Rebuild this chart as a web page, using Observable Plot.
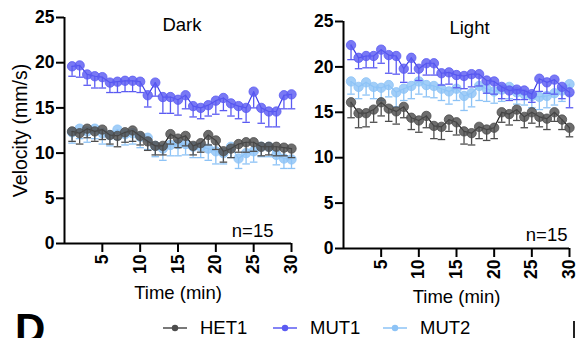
<!DOCTYPE html>
<html>
<head>
<meta charset="utf-8">
<script src="https://cdn.jsdelivr.net/npm/d3@7"></script>
<script src="https://cdn.jsdelivr.net/npm/@observablehq/plot@0.6"></script>
<style>
  html, body { margin: 0; padding: 0; background: #fff; }
  #wrap { position: relative; width: 576px; height: 338px; overflow: hidden; font-family: "Liberation Sans", Arial, sans-serif; color: #000; }
  #left { position: absolute; left: 0; top: 0; }
  #right { position: absolute; left: 300px; top: 0; }
  #legend { position: absolute; left: 163px; top: 319px; display: flex; font-size: 18.5px; line-height: 18px; }
  .item { display: flex; align-items: center; width: 110px; }
  .item svg { margin-right: 13px; }
  #letter { position: absolute; left: 15px; top: 308px; font-size: 42px; font-weight: bold; line-height: 1; }
  #edge { position: absolute; left: 573px; top: 321px; width: 2px; height: 20px; background: #222; }
</style>
</head>
<body>
<div id="wrap">
  <div id="left"></div>
  <div id="right"></div>
  <div id="legend"></div>
  <div id="letter">D</div>
  <div id="edge"></div>
</div>
<script>
// ---- data ----
const minutes = [1,2,3,4,5,6,7,8,9,10,11,12,13,14,15,16,17,18,19,20,21,22,23,24,25,26,27,28,29,30];
const groups = ["HET1", "MUT1", "MUT2"];
const groupColors = ["#4d4d4d", "#5b5bf2", "#8dc3f6"];
const lineColors = ["#1e1e1e", "#3c3ce6", "#8dc3f6"];
const xTicks = [5, 10, 15, 20, 25, 30];
const yTicks = [0, 5, 10, 15, 20, 25];

// Dark
const darkHET1 = [12.4,12.2,12.7,12.4,12.6,12.0,11.9,12.3,12.5,11.9,11.3,10.8,10.8,12.1,11.6,11.9,10.8,11.1,12.0,11.4,10.2,10.5,11.0,11.2,11.2,10.7,10.7,10.7,10.6,10.5];
const darkHET1Err = [1.1,1.2,1.0,1.1,1.1,1.0,1.2,1.1,1.2,1.0,1.0,1.0,1.0,1.1,1.0,1.1,1.0,1.0,1.1,1.0,1.2,1.0,0.9,1.1,1.0,1.0,0.9,1.0,0.9,1.0];
const darkMUT1 = [19.6,19.7,18.7,18.5,18.4,17.8,17.9,18.0,18.0,17.9,16.4,17.8,16.2,16.2,15.9,16.4,15.2,15.0,15.3,15.8,16.1,15.5,15.2,15.0,16.8,15.0,14.6,14.6,16.4,16.5];
const darkMUT1Err = [1.1,1.3,1.2,1.3,1.2,1.1,1.2,1.2,1.2,1.2,1.3,1.5,1.8,1.8,1.7,1.5,1.2,1.2,1.2,1.5,1.4,1.4,1.4,1.6,1.8,1.7,1.7,1.7,1.5,1.6];
const darkMUT2 = [12.3,12.7,12.4,12.7,12.2,12.0,12.6,12.1,12.2,11.8,11.7,10.8,10.5,10.9,11.0,11.0,10.7,10.7,10.5,10.2,10.0,10.7,9.4,10.0,10.2,10.7,10.7,9.8,9.4,9.3];
const darkMUT2Err = [1.2,1.1,1.2,1.1,1.2,1.2,1.1,1.2,1.2,1.2,1.3,1.2,1.3,1.2,1.3,1.2,1.2,1.2,1.3,1.4,1.2,1.2,1.1,1.2,1.2,1.1,1.1,1.1,1.1,1.0];

// Light
const lightHET1 = [16.1,14.9,14.9,15.3,16.1,15.4,15.1,15.6,14.4,14.1,14.6,13.5,13.4,14.2,13.9,12.9,12.7,13.4,13.1,13.3,15.0,14.8,15.3,14.5,15.0,14.5,14.3,15.0,14.2,13.3];
const lightHET1Err = [1.7,1.6,1.5,1.4,1.5,1.4,1.4,1.2,1.3,1.3,1.3,1.4,1.4,1.3,1.4,1.4,1.3,1.3,1.2,1.2,1.1,1.2,1.2,1.2,1.2,1.1,1.2,1.0,1.1,1.0];
const lightMUT1 = [22.4,21.0,21.2,21.2,21.9,21.3,21.2,19.8,21.0,19.8,20.4,20.4,19.3,19.4,19.1,19.0,19.2,19.2,18.5,18.4,17.8,17.4,17.5,17.4,17.0,18.7,18.3,18.6,17.8,17.2];
const lightMUT1Err = [1.6,1.2,1.3,1.3,1.5,2.0,2.0,1.5,1.7,1.3,1.3,1.3,1.3,1.3,1.4,1.4,1.4,1.3,1.4,1.4,1.3,1.1,1.1,1.0,0.9,1.4,1.2,1.6,1.3,1.7];
const lightMUT2 = [18.4,17.8,18.3,17.8,17.7,18.0,17.2,17.6,17.9,18.4,18.0,17.9,17.6,17.3,17.6,16.8,17.1,17.9,17.6,17.3,17.5,17.8,17.2,17.0,16.8,16.7,16.8,17.1,17.4,18.1];
const lightMUT2Err = [1.4,1.3,1.4,1.3,1.4,1.3,1.6,1.3,1.4,1.4,1.3,1.3,1.3,1.4,1.3,1.6,1.5,1.6,1.4,1.3,1.3,1.3,1.3,1.2,1.3,1.4,1.3,1.3,1.2,1.2];

function rows(series) {
  const out = [];
  [2, 1, 0].forEach(gi => {
    const [vals, errs] = series[gi];
    minutes.forEach((t, i) => out.push({t, v: vals[i], e: errs[i], g: groups[gi]}));
  });
  return out;
}

function panel(o) {
  const data = rows(o.series);
  const marks = [];
  for (const gi of [2, 1, 0]) {
    const sub = data.filter(d => d.g === groups[gi]);
    const c = groupColors[gi];
    marks.push(
      Plot.ruleX(sub, {x: "t", y1: d => d.v - d.e, y2: "v", stroke: c, strokeWidth: 1.3}),
      Plot.link(sub, {x1: d => d.t - 0.5, x2: d => d.t + 0.5, y1: d => d.v - d.e, y2: d => d.v - d.e, stroke: c, strokeWidth: 1.3}),
      Plot.line(sub, {x: "t", y: "v", stroke: lineColors[gi], strokeWidth: 1.2}),
      Plot.dot(sub, {x: "t", y: "v", r: 4.7, fill: c, fillOpacity: 0.82, stroke: c, strokeWidth: 0.8})
    );
  }
  return Plot.plot({
    width: o.width, height: 305,
    marginLeft: o.marginLeft, marginRight: o.marginRight, marginTop: o.marginTop, marginBottom: o.marginBottom,
    style: {fontFamily: '"Liberation Sans", Arial, sans-serif', fontSize: "17px", color: "#000", background: "transparent", overflow: "visible"},
    x: {domain: [0, 30]},
    y: {domain: [0, 25]},
    marks: [
      Plot.axisY({ticks: yTicks, tickSize: 8, tickPadding: 2, strokeWidth: 2, fontWeight: "bold", fontSize: 17.5, label: null}),
      Plot.axisX({ticks: xTicks, tickSize: 9, tickPadding: 2, strokeWidth: 2, tickRotate: -90, fontWeight: "bold", fontSize: 17.5, label: null}),
      Plot.ruleX([0], {strokeWidth: 2}),
      Plot.ruleY([0], {strokeWidth: 2}),
      ...marks,
      Plot.text([o.title], {frameAnchor: "top", lineAnchor: "top", dx: o.titleDx, dy: o.titleDy, fontSize: 18.5}),
      Plot.text(["n=15"], {frameAnchor: "bottom-right", textAnchor: "end", lineAnchor: "bottom", dx: o.nDx, dy: o.nDy, fontSize: 18.5}),
      Plot.text(["Time (min)"], {frameAnchor: "bottom", lineAnchor: "middle", dy: o.xLabelDy, fontSize: 18.5}),
      ...(o.yLabel ? [Plot.text([o.yLabel], {frameAnchor: "left", textAnchor: "middle", rotate: -90, dx: -44, fontSize: 19.5})] : [])
    ]
  });
}

document.getElementById("left").append(panel({
  series: [[darkHET1, darkHET1Err], [darkMUT1, darkMUT1Err], [darkMUT2, darkMUT2Err]],
  title: "Dark", width: 300, marginLeft: 64, marginRight: 9, marginTop: 17, marginBottom: 62,
  titleDx: 4, titleDy: 0, nDx: -18, nDy: -7, xLabelDy: 50, yLabel: "Velocity (mm/s)"
}));
document.getElementById("right").append(panel({
  series: [[lightHET1, lightHET1Err], [lightMUT1, lightMUT1Err], [lightMUT2, lightMUT2Err]],
  title: "Light", width: 276, marginLeft: 43, marginRight: 7, marginTop: 21, marginBottom: 57,
  titleDx: 13, titleDy: -1, nDx: -2, nDy: -8, xLabelDy: 49, yLabel: null
}));

// legend
const legend = document.getElementById("legend");
groups.forEach((g, i) => {
  const item = document.createElement("div");
  item.className = "item";
  item.innerHTML = `<svg width="24" height="10"><line x1="0" y1="5" x2="24" y2="5" stroke="${groupColors[i]}" stroke-width="1.5"/><circle cx="12" cy="5" r="3.2" fill="${groupColors[i]}"/></svg><span>${g}</span>`;
  legend.append(item);
});
</script>
</body>
</html>
